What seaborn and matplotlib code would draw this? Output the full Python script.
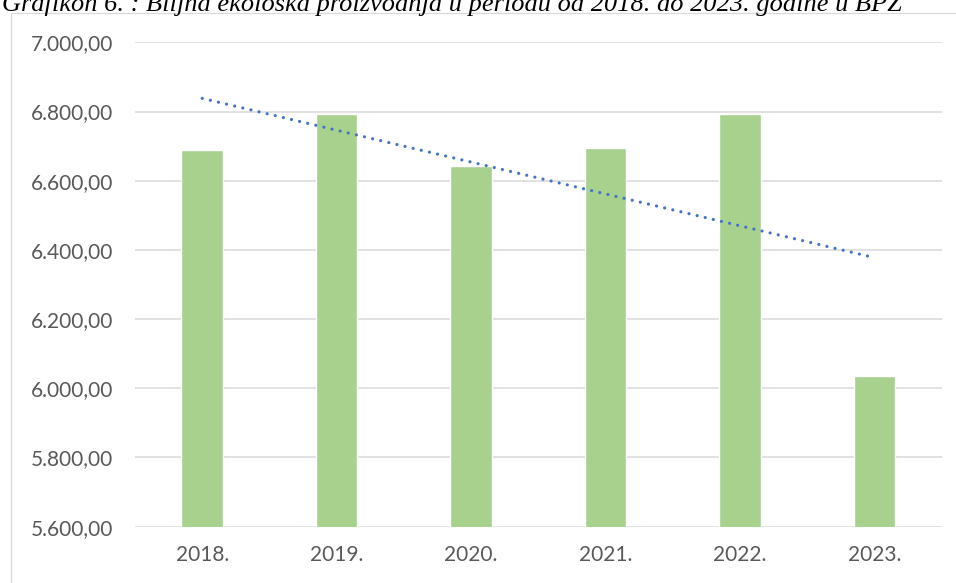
import numpy as np
import pandas as pd
import matplotlib
matplotlib.use("Agg")
import matplotlib.pyplot as plt
import seaborn as sns
from matplotlib.patches import Rectangle
from matplotlib.ticker import FuncFormatter

# Podaci (procijenjeni s grafikona)
years = ["2018.", "2019.", "2020.", "2021.", "2022.", "2023."]
values = [6690, 6792, 6643, 6695, 6792, 6035]
title = "Grafikon 6. : Biljna ekološka proizvodnja u periodu od 2018. do 2023. godine u BPZ"

BAR_COLOR = "#a9d18e"
TREND_COLOR = "#4472c4"
GRID_COLOR = "#d9d9d9"
TEXT_COLOR = "#595959"

sns.set_theme(style="white")
plt.rcParams["font.family"] = ["Lato", "DejaVu Sans"]

df = pd.DataFrame({"godina": years, "vrijednost": values})

fig = plt.figure(figsize=(9.56, 5.83), dpi=100)
ax = fig.add_axes([0.1412, 0.0966, 0.8438, 0.8308])

sns.barplot(data=df, x="godina", y="vrijednost", color=BAR_COLOR,
            saturation=1, width=0.31, ax=ax, zorder=2)

# linearni trend (kao u Excelu)
sns.regplot(x=np.arange(len(values)), y=np.array(values, dtype=float),
            scatter=False, ci=None, truncate=True, ax=ax,
            line_kws={"color": TREND_COLOR, "lw": 2.3,
                      "linestyle": (0, (0.01, 2.6)),
                      "dash_capstyle": "round", "zorder": 3})

ax.set_xlim(-0.5, 5.5)
ax.set_ylim(5600, 7000)
ax.set_yticks(np.arange(5600, 7001, 200))


def fmt(v, pos):
    s = f"{v:,.2f}"
    return s.replace(",", "X").replace(".", ",").replace("X", ".")


ax.yaxis.set_major_formatter(FuncFormatter(fmt))
ax.set_xlabel("")
ax.set_ylabel("")
ax.grid(axis="y", color=GRID_COLOR, lw=1.1, zorder=0)
ax.set_axisbelow(True)
for s in ax.spines.values():
    s.set_visible(False)
ax.tick_params(axis="both", length=0, labelsize=15, labelcolor=TEXT_COLOR)
ax.tick_params(axis="y", pad=16)
ax.tick_params(axis="x", pad=13)

# okvir grafikona
fig.add_artist(Rectangle((11 / 956, -0.2), 1.2, 1 - 13 / 583 + 0.2,
                         transform=fig.transFigure, fill=False,
                         edgecolor=GRID_COLOR, lw=0.9))

# naslov je u izvorniku odrezan na vrhu i lijevo
fig.text(902 / 956, 1 - 11 / 583, title, ha="right", va="baseline",
         fontsize=19, style="italic", family=["Liberation Serif"],
         color="black")

fig.savefig("out.png", dpi=100)
